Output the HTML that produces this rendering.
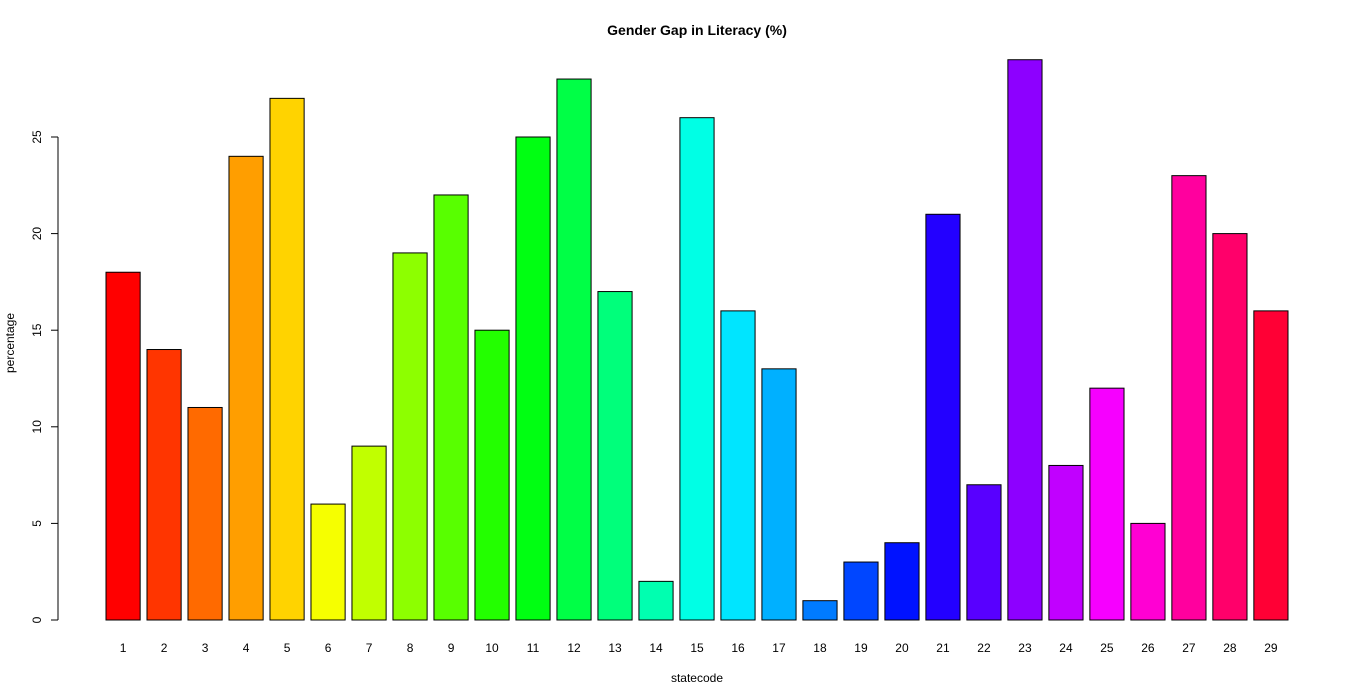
<!DOCTYPE html>
<html><head><meta charset="utf-8"><style>
body{margin:0;background:#fff;}
svg{display:block;font-family:"Liberation Sans",Arial,sans-serif;}
</style></head><body>
<svg id="chart" width="1366" height="700">
<text x="697" y="35" text-anchor="middle" font-size="14" font-weight="bold">Gender Gap in Literacy (%)</text>
<text x="697" y="682" text-anchor="middle" font-size="12">statecode</text>
<text transform="translate(14,343) rotate(-90)" text-anchor="middle" font-size="12">percentage</text>
<g id="bars"></g>
<g id="yaxis"></g>
<g id="xaxis"></g>
</svg>
<script>
const categories=[1,2,3,4,5,6,7,8,9,10,11,12,13,14,15,16,17,18,19,20,21,22,23,24,25,26,27,28,29];
const values=[18,14,11,24,27,6,9,19,22,15,25,28,17,2,26,16,13,1,3,4,21,7,29,8,12,5,23,20,16];
const yTicks=[0,5,10,15,20,25];
const NS="http://www.w3.org/2000/svg";
const y0=620, pxPerUnit=(620-137)/25;
const yScale=v=>y0-v*pxPerUnit;
const left=106, right=1288;
const bw=(right-left)/(categories.length*1.2-0.2);
const xScale=i=>left+i*bw*1.2;
function mk(tag,attrs,parent){const e=document.createElementNS(NS,tag);for(const k in attrs)e.setAttribute(k,attrs[k]);parent.appendChild(e);return e;}
const bars=document.getElementById('bars');
values.forEach((v,i)=>{
  const r=mk('rect',{x:xScale(i),y:yScale(v),width:bw,height:y0-yScale(v),fill:`hsl(${i/categories.length*360},100%,50%)`,stroke:'#000','stroke-width':1},bars);
  
  
});
const xa=document.getElementById('xaxis');
categories.forEach((c,i)=>{
  const t=mk('text',{x:xScale(i)+bw/2,y:652,'text-anchor':'middle','font-size':12},xa);
  t.textContent=c;
  
  
});
const ya=document.getElementById('yaxis');
mk('line',{x1:58,x2:58,y1:yScale(0),y2:yScale(yTicks[yTicks.length-1]),stroke:'#000'},ya);
yTicks.forEach(v=>{
  const y=yScale(v);
  mk('line',{x1:51,x2:58,y1:y,y2:y,stroke:'#000'},ya);
  const t=mk('text',{transform:`translate(41,${y}) rotate(-90)`,'text-anchor':'middle','font-size':12},ya);
  t.textContent=v;
  
  
});
</script>
</body></html>
